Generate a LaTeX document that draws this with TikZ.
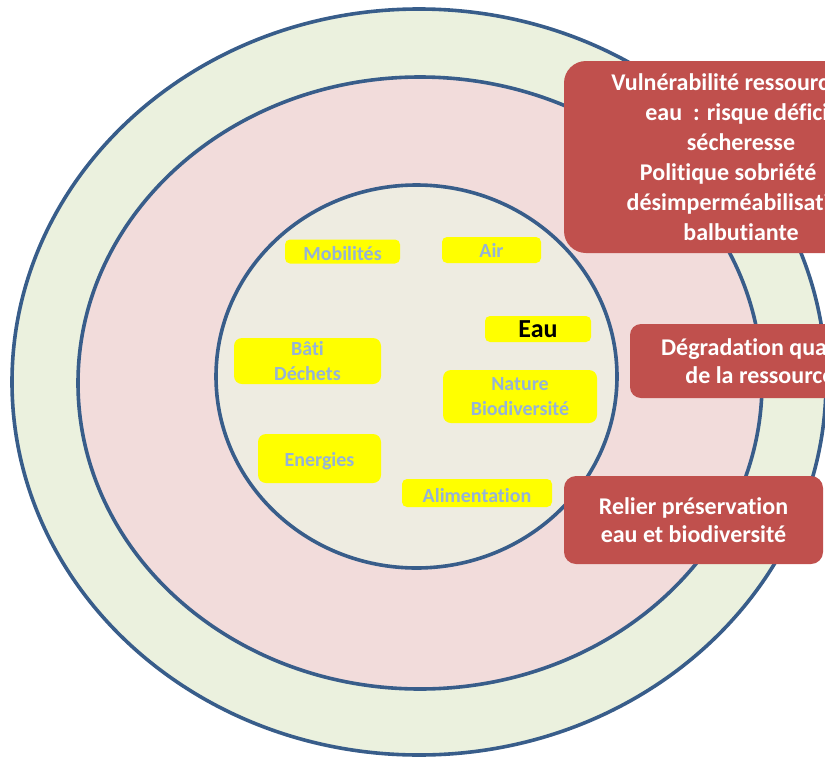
\documentclass[tikz,border=0pt]{standalone}
\usepackage{fontspec}
\setmainfont{Carlito}[Ligatures=NoCommon, RawFeature={-liga,-dlig,-clig}]
\definecolor{ringline}{HTML}{385D8A}
\definecolor{outerfill}{HTML}{EBF1DE}
\definecolor{middlefill}{HTML}{F2DCDB}
\definecolor{innerfill}{HTML}{EEECE1}
\definecolor{issuered}{HTML}{C0504D}
\definecolor{themeyellow}{HTML}{FFFF00}
\definecolor{themetext}{HTML}{95B3D7}
% sets a label a little lower while keeping its box size
\newcommand{\lowlabel}[1]{\raisebox{-2.5pt}[\height][\depth]{#1}}
\tikzset{
  ring/.style={draw=ringline, line width=3.6pt},
  theme/.style={fill=themeyellow, rounded corners=5pt, inner sep=0pt,
    align=center, text=themetext, font=\fontsize{20}{25}\selectfont\bfseries},
  issue/.style={fill=issuered, inner sep=0pt, align=center, text=white,
    font=\fontsize{24}{28}\selectfont\bfseries},
}
\begin{document}
\begin{tikzpicture}[x=1pt, y=-1pt]
  \useasboundingbox (0,0) rectangle (825,758);
  \clip (0,0) rectangle (825,758);

  % three nested rings
  \draw[ring, fill=outerfill]  (419,382)   ellipse [x radius=407,   y radius=373];
  \draw[ring, fill=middlefill] (420,383)   ellipse [x radius=342,   y radius=306];
  \draw[ring, fill=innerfill]  (416.5,376.5) ellipse [x radius=200.5, y radius=191.5];

  % themes in the inner ring
  \node[theme, minimum width=115pt, minimum height=24pt] (mob) at (342.5,251.5) {\lowlabel{Mobilités}};
  \node[theme, minimum width=99pt,  minimum height=26pt] (air) at (491.5,250) {Air};
  \node[theme, minimum width=106pt, minimum height=26pt, text=black,
        font=\fontsize{26}{30}\selectfont\bfseries] (eau) at (538,329) {Eau};
  \node[theme, rounded corners=8pt, minimum width=147pt, minimum height=46pt] (bati) at (307.5,361) {Bâti\\Déchets};
  \node[theme, rounded corners=8pt, minimum width=154pt, minimum height=53pt] (nature) at (520,396.5) {Nature\\Biodiversité};
  \node[theme, rounded corners=8pt, minimum width=123pt, minimum height=49pt] (energ) at (319.5,458.5) {\lowlabel{Energies}};
  \node[theme, minimum width=150pt, minimum height=28pt] (alim) at (477,493) {\lowlabel{Alimentation}};

  % issues for water
  \node[issue, rounded corners=22pt, minimum width=354pt, minimum height=192pt,
        font=\fontsize{24}{30}\selectfont\bfseries] (vuln) at (741,157)
    {Vulnérabilité ressource en\\eau\ \ : risque déficit\\sécheresse\\Politique sobriété\hphantom{\ et}\\désimperméabilisation\\balbutiante};
  \node[issue, rounded corners=11pt, minimum width=260pt, minimum height=74pt] (degr) at (760,361)
    {Dégradation qualité\\de la ressource};
  \node[issue, rounded corners=12pt, minimum width=259pt, minimum height=88pt] (relier) at (693.5,520)
    {Relier préservation\\eau et biodiversité};
\end{tikzpicture}
\end{document}
